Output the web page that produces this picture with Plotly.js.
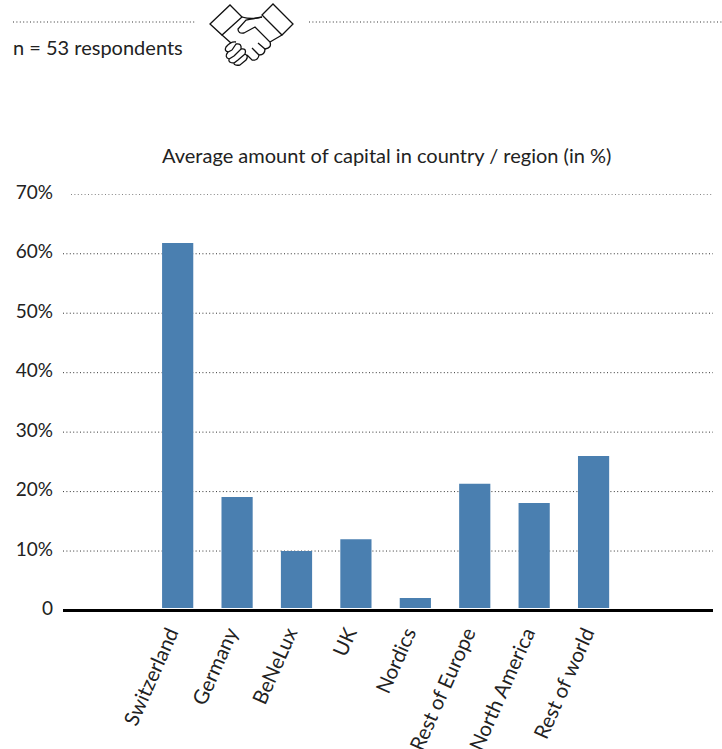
<!DOCTYPE html>
<html><head><meta charset="utf-8">
<script src="https://cdn.plot.ly/plotly-3.0.1.min.js"></script>
<style>html,body{margin:0;padding:0;background:#fff}#c{width:722px;height:749px}</style>
</head><body><div id="c"></div>
<script>
const categories = ["Switzerland","Germany","BeNeLux","UK","Nordics","Rest of Europe","North America","Rest of world"];
const values = [61.8,19.1,10,12,2.1,21.3,18.1,26];
const tickValues = [0,10,20,30,40,50,60,70];
const tickLabels = ["0","10%","20%","30%","40%","50%","60%","70%"];
const W=722,H=749;
const FONT="Lato, sans-serif", INK="#222222";
const px=x=>x/W, py=y=>1-y/H;
const path=d=>d.replace(/(-?[\d.]+),(-?[\d.]+)/g,(m,a,b)=>px(+a).toFixed(5)+","+py(+b).toFixed(5));
const icon=s=>({type:"path",xref:"paper",yref:"paper",path:path(s),line:{color:"#111",width:1.3},layer:"above"});
const DOT={color:"#333",width:1,dash:"1px,2.4px"};
const dots=(x0,x1,y)=>({type:"line",xref:"paper",yref:"paper",x0:px(x0),x1:px(x1),y0:py(y),y1:py(y),line:DOT});
const shapes=[dots(13,196,22),dots(309,722,22)];
tickValues.filter(v=>v>0).forEach(v=>shapes.push({type:"line",xref:"paper",yref:"y",x0:px(v===70?71:63),x1:px(713),y0:v,y1:v,line:DOT,layer:"below"}));
shapes.push({type:"rect",xref:"paper",yref:"paper",x0:px(63),x1:px(713),y0:py(610),y1:py(608),fillcolor:"#fff",line:{width:0},layer:"above"});
shapes.push({type:"line",xref:"paper",yref:"paper",x0:px(63),x1:px(713),y0:py(610.5),y1:py(610.5),line:{color:"#000",width:3},layer:"above"});
["M210,24 L230,5 L242,17 L222,35 Z",
 "M262,15 L273,4 L293,24 L282,35 Z",
 "M242,17 Q252,20 262,17",
 "M282,35 L270,42 M222,35 L231,43",
 "M262,17 L246,20 L238,29 Q238,34 244,33 L255,27 L270,42 Q272,48 265,49 L258,43",
 "M265,49 Q265,55 259,55 L252,48 M259,55 Q258,61 252,60 L247,55",
 "M236,42 Q231,41 226,47 Q224,51 228,52 L232,50 M228,52 Q224,57 229,59 L234,56 M229,59 Q228,63 234,63 L238,60 M234,63 Q234,66 240,65 L246,60 Q249,56 245,54 L238,60 M245,54 Q247,48 241,49 L234,56 M241,49 Q242,43 236,44 L232,50"
].forEach(s=>shapes.push(icon(s)));
Plotly.newPlot("c",[{type:"bar",x:categories,y:values,marker:{color:"#4a7fb0",line:{width:0}},width:0.525,hoverinfo:"x+y"}],{
 width:W,height:H,margin:{l:0,r:0,t:0,b:0},paper_bgcolor:"#fff",plot_bgcolor:"rgba(0,0,0,0)",showlegend:false,
 font:{family:FONT,color:INK,size:20},
 xaxis:{domain:[px(63),px(713)],type:"category",categoryorder:"array",categoryarray:categories,range:[-1.93,9.01],tickangle:-66,showgrid:false,zeroline:false,showline:false,ticks:"",ticklabelshift:-8,ticklabelstandoff:6,tickfont:{family:FONT,size:20.5,color:INK},automargin:false},
 yaxis:{domain:[py(610.5),py(194.3)],range:[0,70],tickmode:"array",tickvals:tickValues,ticktext:tickLabels,showgrid:false,zeroline:false,showline:false,ticks:"",ticklabelstandoff:9,ticklabelshift:-2,tickfont:{family:FONT,size:19,color:INK},automargin:false},
 shapes:shapes,
 annotations:[
  {xref:"paper",yref:"paper",x:px(13),y:py(47),xanchor:"left",yanchor:"middle",showarrow:false,xshift:-2,text:"n = 53 respondents",font:{family:FONT,size:20,color:INK}},
  {xref:"paper",yref:"paper",x:px(386),y:py(155),xanchor:"center",yanchor:"middle",showarrow:false,text:"Average amount of capital in country / region (in %)",font:{family:FONT,size:20,color:INK}}
 ]
},{displayModeBar:false,staticPlot:true});
</script></body></html>
